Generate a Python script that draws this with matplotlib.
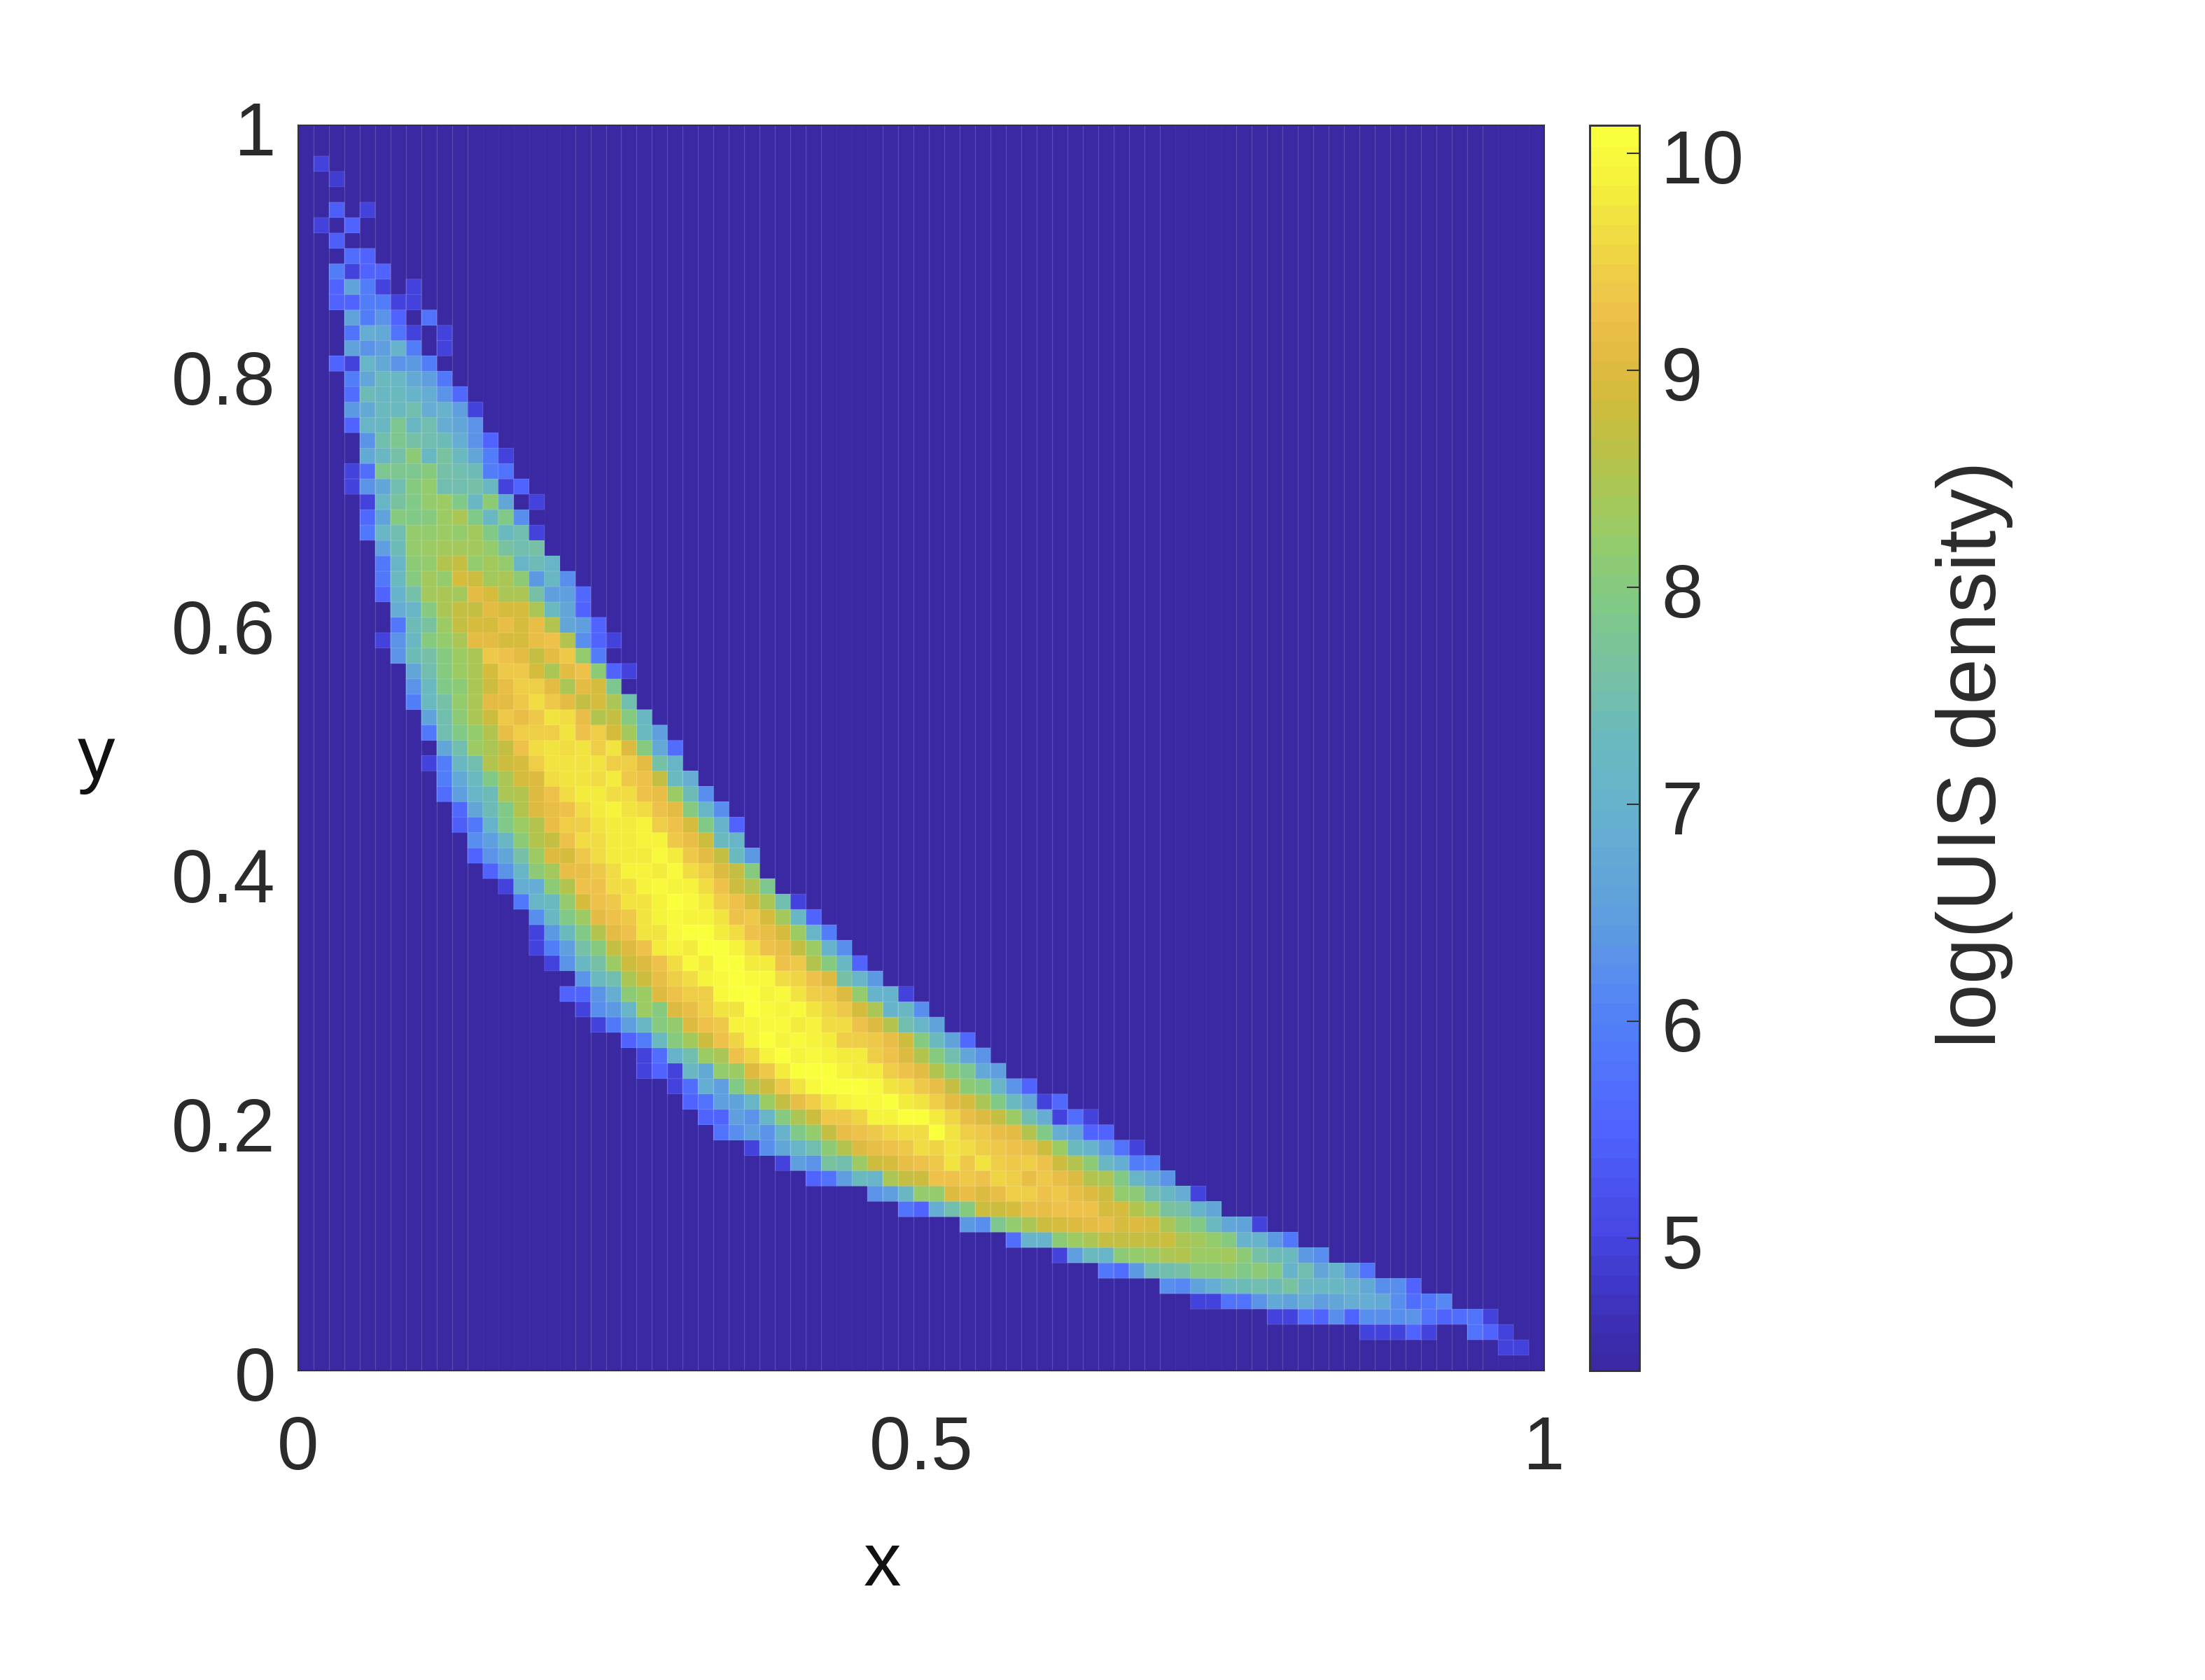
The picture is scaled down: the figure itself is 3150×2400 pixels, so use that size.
import numpy as np
import matplotlib
matplotlib.use("Agg")
import matplotlib.pyplot as plt
from matplotlib.colors import LinearSegmentedColormap, Normalize
from matplotlib.transforms import ScaledTranslation

plt.rcParams['font.family'] = ['Liberation Sans', 'DejaVu Sans']

# ---------- data (log UIS density; _ = empty background cell) ----------
_ = 4.39
V_MIN, V_MAX = 4.39, 10.13
N_CELLS = 81

x_ticks = [0, 0.5, 1]
x_tick_labels = ['0', '0.5', '1']
y_ticks = [0, 0.2, 0.4, 0.6, 0.8, 1]
y_tick_labels = ['0', '0.2', '0.4', '0.6', '0.8', '1']
cbar_ticks = [5, 6, 7, 8, 9, 10]

# first row counted from the top of the plot is row 2
row_numbers = list(range(2, 80))
row_first_column = [1, 2, 0, 2, 1, 2, 3, 2, 2, 2, 3, 3, 3, 2, 3, 3, 3, 3, 4, 4, 3, 3, 4, 4, 4, 5, 5, 5, 5, 6, 6, 5, 6, 7, 7, 7,
                    8, 8, 9, 8, 9, 9, 10, 10, 11, 11, 12, 13, 14, 15, 15, 15, 16, 18, 17, 18, 19, 21, 22, 22, 24, 25, 26, 27,
                    29, 31, 33, 37, 39, 43, 46, 49, 52, 56, 58, 63, 69, 78]
row_values = [
    [4.95],
    [4.9],
    [],
    [5.4, _, 4.95],
    [5.0, _, 5.5],
    [5.4],
    [5.7, 5.5],
    [6.0, 5.0, 5.5, 5.5],
    [5.5, 6.6, 6.0, 5.0, _, 4.95],
    [5.5, 5.5, 6.0, 6.0, 5.0, 5.0],
    [6.6, 6.0, 6.3, 5.5, _, 5.8],
    [5.8, 6.9, 6.8, 5.8, 5.0, _, 5.0],
    [6.6, 6.3, 6.5, 7.0, 6.0, _, 5.0],
    [5.5, 5.0, 7.1, 6.8, 6.3, 6.4, 6.0],
    [6.0, 6.7, 7.3, 7.2, 6.8, 6.5, 5.9],
    [5.7, 7.4, 7.2, 7.3, 7.0, 6.9, 6.3, 5.6],
    [6.4, 6.8, 7.3, 7.3, 7.5, 6.9, 7.0, 6.5, 5.0],
    [5.5, 7.1, 7.2, 7.8, 7.2, 7.5, 6.9, 6.7, 6.3],
    [6.3, 7.5, 7.8, 7.6, 7.5, 7.4, 6.9, 6.3, 5.5],
    [6.8, 7.2, 7.6, 8.1, 7.2, 7.7, 7.3, 6.7, 6.0, 5.0],
    [5.0, 5.7, 7.8, 7.8, 7.8, 8.0, 7.6, 7.5, 7.4, 6.0, 5.8],
    [5.0, 6.3, 6.7, 7.5, 8.0, 8.2, 7.5, 7.5, 7.6, 7.2, 5.0, 5.5],
    [5.0, 7.1, 7.7, 7.9, 8.2, 8.3, 7.9, 7.2, 8.1, 6.7, _, 5.0],
    [5.6, 6.6, 8.0, 7.9, 8.0, 8.3, 8.5, 7.9, 7.2, 7.9, 6.2],
    [5.9, 7.1, 7.5, 8.2, 8.2, 8.3, 8.2, 8.4, 7.9, 7.3, 7.5, 5.0],
    [6.5, 7.4, 8.2, 8.3, 8.4, 8.4, 8.4, 8.2, 7.7, 7.5, 7.6],
    [5.9, 7.1, 8.1, 8.2, 8.6, 8.7, 8.2, 8.4, 8.2, 7.1, 7.4, 7.1],
    [5.9, 7.3, 8.0, 8.4, 8.2, 8.9, 8.8, 8.4, 8.5, 8.1, 6.4, 7.2, 6.2],
    [5.5, 7.0, 7.6, 8.4, 8.5, 8.4, 9.1, 8.9, 8.5, 8.5, 7.6, 6.5, 6.5, 5.6],
    [6.9, 7.1, 8.0, 8.5, 8.7, 8.7, 9.1, 8.9, 8.9, 8.5, 7.3, 6.7, 5.5],
    [5.9, 7.4, 7.7, 8.3, 8.7, 8.9, 8.9, 9.2, 8.9, 9.2, 8.6, 6.7, 6.5, 5.5],
    [5.0, 6.3, 7.2, 8.0, 8.2, 8.5, 9.1, 9.1, 8.9, 8.9, 9.2, 9.3, 8.6, 6.2, 5.5, 5.0],
    [6.3, 7.4, 7.6, 8.0, 8.3, 8.5, 9.4, 9.3, 9.1, 8.7, 9.1, 9.4, 8.2, 6.0],
    [6.7, 7.5, 8.0, 8.3, 8.5, 8.9, 9.4, 9.4, 8.9, 8.5, 9.1, 9.3, 8.1, 5.5, 5.0],
    [6.3, 7.3, 7.9, 8.1, 8.5, 8.8, 9.2, 9.5, 9.5, 9.1, 8.5, 9.1, 8.9, 7.8],
    [6.0, 7.3, 7.6, 8.2, 8.5, 9.1, 9.1, 9.4, 9.6, 9.4, 9.1, 8.7, 8.9, 8.5, 7.5],
    [6.6, 7.5, 8.1, 8.5, 8.8, 9.4, 9.2, 9.4, 9.7, 9.6, 9.2, 8.6, 8.7, 8.0, 7.2],
    [5.9, 7.5, 7.9, 8.2, 8.6, 9.2, 9.5, 9.5, 9.5, 9.7, 9.3, 9.5, 8.9, 8.4, 7.3, 6.5],
    [6.7, 7.5, 8.3, 8.5, 8.7, 9.3, 9.6, 9.7, 9.6, 9.7, 9.5, 9.7, 9.0, 8.0, 6.8, 5.7],
    [5.0, 6.0, 7.2, 7.5, 8.6, 8.8, 8.9, 9.5, 9.7, 9.7, 9.7, 9.7, 9.5, 9.5, 9.1, 7.6, 7.1],
    [6.0, 6.8, 7.3, 7.9, 8.5, 8.9, 9.0, 9.6, 9.75, 9.7, 9.65, 9.85, 9.4, 9.3, 8.7, 7.3, 6.9],
    [5.7, 6.5, 7.1, 7.4, 8.5, 8.6, 9.0, 9.25, 9.6, 9.85, 9.8, 9.6, 9.65, 9.3, 9.2, 8.3, 7.4, 6.2],
    [5.6, 6.7, 7.4, 7.9, 8.6, 9.0, 9.2, 9.3, 9.6, 9.8, 9.9, 9.75, 9.6, 9.3, 9.1, 8.0, 7.1, 6.2],
    [5.4, 5.9, 7.0, 7.9, 8.3, 8.6, 9.2, 9.45, 9.45, 9.7, 9.8, 9.85, 9.95, 9.45, 9.3, 8.9, 7.9, 7.0, 5.5],
    [6.2, 6.5, 7.2, 8.1, 8.6, 8.7, 9.3, 9.6, 9.6, 9.8, 9.85, 9.9, 9.9, 9.4, 9.2, 8.8, 7.3, 7.1],
    [5.5, 6.3, 6.7, 7.6, 8.3, 9.05, 8.95, 9.4, 9.65, 9.8, 9.85, 9.85, 10.0, 9.8, 9.4, 9.1, 8.7, 7.3, 6.4],
    [5.5, 6.3, 7.1, 8.1, 8.4, 9.2, 9.2, 9.4, 9.6, 9.9, 9.9, 9.8, 10.0, 9.6, 9.5, 9.0, 8.7, 8.0],
    [5.0, 6.9, 6.9, 8.1, 8.6, 9.3, 9.25, 9.6, 9.65, 9.9, 10.0, 9.9, 9.9, 9.6, 9.3, 8.8, 8.6, 7.8],
    [5.9, 7.1, 7.3, 8.2, 8.95, 9.25, 9.4, 9.7, 9.7, 9.95, 10.1, 10.0, 9.8, 9.5, 9.25, 8.9, 8.5, 7.5, 5.0],
    [6.2, 7.2, 7.9, 8.3, 9.1, 9.3, 9.4, 9.7, 9.9, 10.0, 9.95, 9.95, 9.75, 9.3, 9.4, 8.9, 8.4, 7.2, 5.5],
    [5.0, 6.4, 7.3, 7.9, 8.6, 9.1, 9.3, 9.7, 9.7, 10.0, 10.05, 10.15, 9.85, 9.65, 9.3, 9.2, 8.9, 8.3, 7.1, 6.0],
    [5.0, 6.0, 6.5, 7.6, 8.0, 8.7, 9.0, 9.3, 9.8, 9.9, 9.85, 10.15, 10.1, 9.95, 9.65, 9.25, 9.2, 8.7, 8.3, 7.0, 6.2],
    [5.0, 6.3, 7.2, 7.6, 8.3, 8.8, 9.0, 9.3, 9.65, 10.0, 9.8, 10.1, 10.15, 9.85, 9.8, 9.3, 9.35, 8.6, 8.0, 7.2, 5.5],
    [6.3, 7.3, 7.5, 8.5, 8.8, 9.2, 9.5, 9.6, 9.9, 10.0, 10.15, 10.0, 10.0, 9.6, 9.55, 9.3, 9.0, 7.6, 7.1, 6.4],
    [5.5, 5.5, 6.3, 6.9, 8.1, 8.3, 9.0, 9.25, 9.5, 9.5, 10.0, 10.05, 10.15, 9.95, 10.0, 9.7, 9.5, 9.4, 9.05, 8.2, 7.0, 7.0, 5.0],
    [5.0, 6.2, 6.4, 7.1, 8.3, 8.0, 9.0, 9.2, 9.5, 9.7, 9.75, 10.15, 10.0, 9.95, 10.0, 9.7, 9.55, 9.4, 8.9, 8.5, 7.0, 7.2, 6.2],
    [5.0, 5.9, 6.5, 7.2, 8.0, 8.2, 9.0, 9.3, 9.4, 9.95, 9.95, 10.0, 10.0, 9.85, 9.95, 9.65, 9.6, 9.3, 9.0, 8.6, 7.5, 7.1, 6.6],
    [5.5, 6.0, 7.3, 8.0, 8.4, 8.8, 9.3, 9.55, 9.95, 10.1, 9.95, 10.0, 9.95, 9.85, 9.5, 9.5, 9.35, 9.15, 8.8, 8.0, 7.3, 6.6, 5.6],
    [5.0, 5.7, 7.0, 7.5, 8.3, 8.5, 9.3, 9.55, 9.95, 10.1, 9.95, 10.0, 9.95, 9.85, 9.8, 9.5, 9.25, 9.0, 8.6, 8.0, 7.5, 6.7, 6.3],
    [5.0, 5.5, 5.0, 7.2, 6.8, 8.2, 8.3, 9.0, 9.4, 9.85, 10.15, 10.05, 10.15, 9.95, 9.8, 9.85, 9.5, 9.3, 9.1, 8.6, 8.1, 7.8, 6.8, 6.5],
    [5.0, 5.7, 6.9, 6.5, 7.9, 8.6, 8.8, 9.35, 9.75, 10.0, 10.05, 10.15, 10.1, 10.0, 9.7, 9.6, 9.35, 9.15, 8.7, 8.1, 7.9, 7.1, 6.3, 5.5],
    [5.5, 5.8, 6.5, 6.6, 7.1, 8.3, 8.7, 9.2, 9.5, 9.7, 9.95, 10.0, 10.0, 10.15, 9.85, 9.7, 9.45, 9.1, 8.9, 8.5, 7.9, 7.3, 6.7, 5.0, 5.6],
    [5.5, 5.5, 6.5, 6.3, 7.1, 8.0, 8.5, 8.8, 9.4, 9.4, 9.55, 9.95, 9.95, 10.05, 10.05, 9.8, 9.55, 9.2, 9.05, 8.7, 8.3, 7.5, 6.9, 5.0, 5.7, 5.0],
    [5.8, 6.2, 6.5, 6.3, 7.0, 7.9, 8.2, 8.7, 9.2, 9.3, 9.4, 9.55, 9.65, 9.65, 10.05, 9.75, 9.5, 9.35, 9.2, 9.1, 8.6, 7.9, 6.9, 6.6, 5.5, 5.5],
    [5.0, 6.2, 6.7, 7.1, 7.5, 8.1, 8.6, 9.0, 9.2, 9.25, 9.4, 9.6, 9.55, 9.75, 9.65, 9.5, 9.4, 9.3, 9.2, 8.85, 8.3, 7.3, 7.0, 6.4, 5.8, 5.0],
    [5.0, 6.5, 6.3, 7.7, 7.5, 8.3, 8.8, 8.9, 9.2, 9.3, 9.4, 9.75, 9.4, 9.7, 9.45, 9.4, 9.45, 9.25, 8.8, 8.6, 8.1, 7.2, 6.9, 6.0, 6.0],
    [5.5, 5.8, 6.5, 7.3, 7.1, 8.5, 8.7, 8.8, 9.25, 9.3, 9.4, 9.3, 9.55, 9.45, 9.2, 9.35, 9.2, 9.0, 8.6, 8.5, 7.9, 7.1, 6.8, 6.3],
    [6.3, 6.5, 7.2, 8.2, 8.2, 9.0, 9.15, 9.0, 9.2, 9.45, 9.5, 9.3, 9.35, 9.2, 9.0, 8.8, 8.2, 8.1, 7.5, 7.2, 6.9, 5.0],
    [5.8, 5.5, 6.9, 7.5, 8.0, 8.85, 8.85, 8.95, 9.2, 9.2, 9.3, 9.3, 9.25, 8.95, 8.95, 8.6, 8.3, 7.7, 7.6, 7.0, 6.7],
    [6.4, 6.2, 7.8, 8.2, 8.5, 8.8, 8.9, 9.0, 9.1, 9.15, 8.95, 9.0, 8.95, 8.5, 8.1, 7.9, 7.3, 6.7, 6.6, 5.0],
    [5.7, 7.0, 7.0, 8.1, 8.3, 8.5, 8.7, 8.75, 8.7, 8.75, 8.8, 8.5, 8.4, 8.2, 8.0, 7.0, 7.0, 6.4, 5.9],
    [5.0, 6.5, 7.3, 7.1, 8.1, 8.2, 8.3, 8.45, 8.6, 8.3, 8.25, 8.35, 8.1, 7.6, 7.4, 7.3, 6.4, 6.2],
    [5.9, 5.7, 6.4, 7.4, 7.5, 7.6, 8.05, 8.05, 8.1, 7.9, 8.1, 7.9, 7.0, 7.5, 6.7, 7.0, 6.4, 5.8],
    [6.2, 6.1, 6.6, 6.9, 7.3, 7.4, 7.5, 7.4, 7.7, 7.2, 7.2, 7.2, 7.0, 6.8, 6.2, 6.2, 5.5],
    [5.0, 5.0, 5.8, 5.8, 6.3, 6.8, 6.6, 6.9, 6.5, 6.7, 6.9, 6.9, 6.8, 6.2, 5.7, 5.9, 6.1],
    [5.0, 5.0, 5.7, 5.5, 6.2, 5.5, 6.2, 6.2, 6.2, 6.3, 5.8, 5.5, 5.7, 5.8, 5.0],
    [5.0, 5.0, 5.0, 5.5, 5.0, _, _, 5.8, 5.5, 5.0],
    [5.0, 5.0],
]

# ---------- colours as they appear on the colour bar ----------
cmap_values = [4.39, 4.7, 5.0, 5.5, 6.0, 6.5, 7.0, 7.3, 7.6, 8.0, 8.3, 8.6, 8.9, 9.1, 9.3, 9.5, 9.7, 9.9, 10.13]
cmap_colours = [(58, 41, 163), (62, 52, 192), (70, 70, 228), (80, 100, 255), (82, 128, 248), (95, 160, 222),
                (103, 178, 205), (105, 185, 190), (118, 192, 165), (130, 202, 130), (155, 203, 100), (180, 195, 75),
                (210, 188, 60), (226, 186, 66), (238, 192, 74), (238, 207, 70), (241, 222, 66), (245, 240, 60),
                (250, 255, 60)]
stops = [((v - V_MIN) / (V_MAX - V_MIN), tuple(c / 255 for c in rgb)) for v, rgb in zip(cmap_values, cmap_colours)]
cmap = LinearSegmentedColormap.from_list('parula_like', stops, N=64)
norm = Normalize(V_MIN, V_MAX)

# ---------- grid ----------
Z = np.full((N_CELLS, N_CELLS), _)
for row, first, values in zip(row_numbers, row_first_column, row_values):
    for i, v in enumerate(values):
        Z[N_CELLS - 1 - row, first + i] = v
edges = np.linspace(0, 1, N_CELLS + 1)

W, H = 3150, 2400
fig = plt.figure(figsize=(W / 300, H / 300), dpi=300, facecolor='white')
AX_L, AX_R, AX_T, AX_B = 426, 2206, 179, 1958
ax = fig.add_axes([AX_L / W, 1 - AX_B / H, (AX_R - AX_L) / W, (AX_B - AX_T) / H])
TEXT = '#2b2b2b'

mesh = ax.pcolormesh(edges, edges, Z, cmap=cmap, norm=norm, antialiased=False, rasterized=True)
masked = np.ma.masked_less_equal(Z, _)
ax.pcolor(edges, edges, masked, cmap=cmap, norm=norm, edgecolors=(1, 1, 1, 0.09), linewidth=0.3)

# faint light seams along the column borders
faint = {12, 13, 14, 15, 16, 17, 35, 36, 37, 57, 58, 59, 60, 78, 79, 80}
for k in range(1, N_CELLS):
    ax.axvline(edges[k], color='white', lw=0.3, alpha=0.04 if k in faint else 0.17, zorder=3)

ax.set_xlim(0, 1)
ax.set_ylim(0, 1)
ax.set_xticks(x_ticks, x_tick_labels)
ax.set_yticks(y_ticks, y_tick_labels)
ax.tick_params(axis='x', length=0, pad=15.2, labelsize=25.7, labelcolor=TEXT)
ax.tick_params(axis='y', length=0, pad=7.7, labelsize=25.7, labelcolor=TEXT)
for s in ax.spines.values():
    s.set_linewidth(0.5)
    s.set_color('#333333')
    s.set_zorder(5)
ax.set_xlabel('x', fontsize=25.7, color='#111111')
ax.xaxis.set_label_coords(0.469, -0.157, transform=ax.transAxes)
ax.xaxis.label.set_verticalalignment('center')
ax.set_ylabel('y', fontsize=25.7, rotation=0, color='#111111', ha='center', va='center')
ax.yaxis.set_label_coords(-0.162, 0.491, transform=ax.transAxes)

shift_down = ScaledTranslation(0, -4 / 300, fig.dpi_scale_trans)
for lab in ax.get_yticklabels():
    lab.set_transform(lab.get_transform() + shift_down)

# ---------- colour bar ----------
cax = fig.add_axes([2271 / W, 1 - AX_B / H, (2342 - 2271) / W, (AX_B - AX_T) / H])
cb = fig.colorbar(mesh, cax=cax, ticks=cbar_ticks)
cb.solids.set_edgecolor('face')
cb.solids.set_rasterized(True)
cb.ax.tick_params(direction='in', length=4.4, width=0.5, color='#333333', pad=7.5, labelsize=25.7, labelcolor=TEXT)
cb.outline.set_linewidth(0.7)
cb.outline.set_edgecolor('#333333')
cb.set_ticklabels([str(t) for t in cbar_ticks])
for lab in cax.get_yticklabels():
    lab.set_transform(lab.get_transform() + shift_down)
fig.text(2821 / W, 1 - 1078 / H, 'log(UIS density)', rotation=90, ha='center', va='center', fontsize=28.3, color=TEXT)

fig.savefig('out.png', dpi=300)
